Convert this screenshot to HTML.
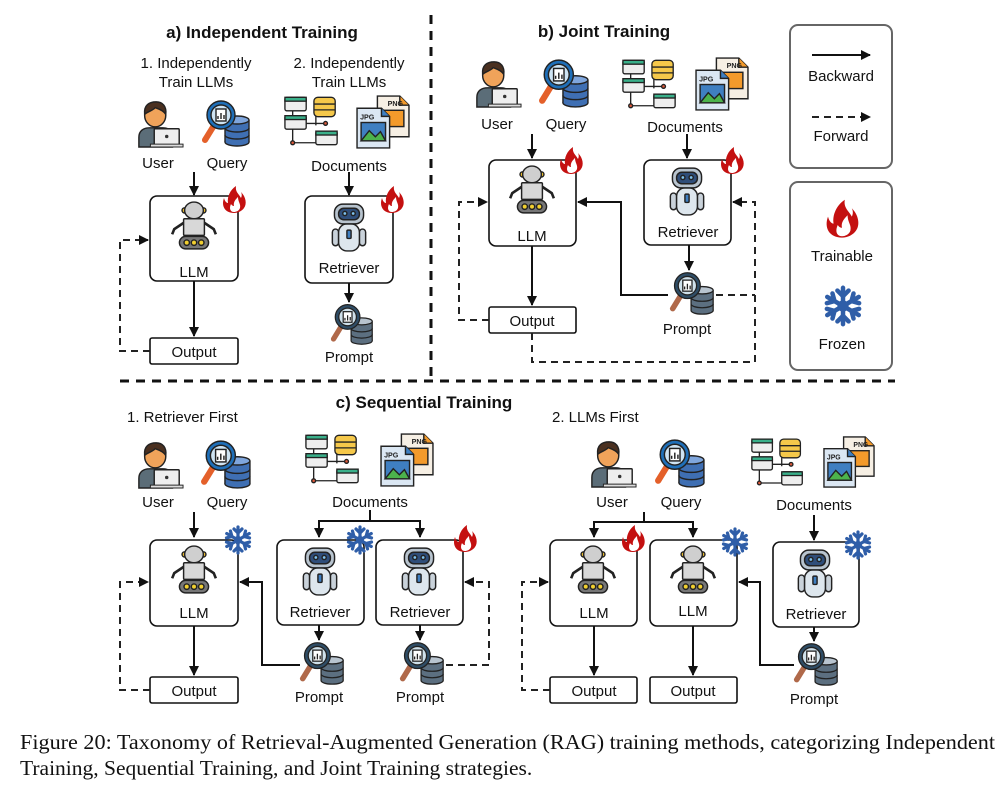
<!DOCTYPE html>
<html><head><meta charset="utf-8"><style>
html,body{margin:0;padding:0;background:#fff;}
svg{display:block;}
.t{font-family:"Liberation Sans",sans-serif;font-size:15px;fill:#111;text-anchor:middle;}
.h{font-family:"Liberation Sans",sans-serif;font-size:17px;font-weight:bold;fill:#111;text-anchor:middle;}
.bx{fill:#fff;stroke:#111;stroke-width:1.6;}
.ln{fill:none;stroke:#111;stroke-width:2;}
.ds{fill:none;stroke:#222;stroke-width:2;stroke-dasharray:7,5;}
.cap{font-family:"Liberation Serif",serif;font-size:21.5px;fill:#111;}
</style></head><body>
<svg width="1006" height="788" viewBox="0 0 1006 788" xmlns="http://www.w3.org/2000/svg">
<defs>
<marker id="ar" viewBox="0 0 10 10" refX="9" refY="5" markerWidth="5" markerHeight="5" orient="auto"><path d="M0 0L10 5L0 10Z" fill="#111"/></marker>
<symbol id="flame" viewBox="0 0 30 30"><path d="M15 29C6 29 2 22 5 14C6 18 8 19 9 19C8 13 11 6 17 2C16 8 20 10 22 14C23 12 23 10 22 8C27 13 28 20 25 24C23 27 19 29 15 29Z" fill="#c41010"/><path d="M15 28C11 28 10 24 12 20C13 22 15 22 15 22C14 18 17 15 19 13C19 18 22 20 21 24C20 27 17 28 15 28Z" fill="#fff"/></symbol>
<symbol id="snow" viewBox="0 0 30 30"><g stroke="#2f5ea8" stroke-width="3.2" stroke-linecap="round" fill="none">
<g id="arm"><line x1="15" y1="15" x2="15" y2="2"/><polyline points="11,4 15,8 19,4"/></g>
<use href="#arm" transform="rotate(60 15 15)"/><use href="#arm" transform="rotate(120 15 15)"/><use href="#arm" transform="rotate(180 15 15)"/><use href="#arm" transform="rotate(240 15 15)"/><use href="#arm" transform="rotate(300 15 15)"/></g><circle cx="15" cy="15" r="4" fill="#2f5ea8"/></symbol>
<symbol id="user" viewBox="0 0 50 50"><path d="M3 50V40C3 33 8 30 14 30H28C34 30 38 33 38 40V50Z" fill="#5b6d78" stroke="#222" stroke-width="1.5"/><ellipse cx="20" cy="17" rx="11" ry="12" fill="#f0a35a" stroke="#222" stroke-width="1.5"/><path d="M9 16C8 6 14 3 21 3C28 3 32 8 31 16C28 11 22 10 20 9C18 12 12 13 9 16Z" fill="#4a3020" stroke="#222" stroke-width="1.5"/><rect x="19" y="31" width="26" height="17" rx="1" fill="#eee" stroke="#222" stroke-width="1.5"/><rect x="15" y="47" width="34" height="3" fill="#ddd" stroke="#222" stroke-width="1"/><circle cx="32" cy="39" r="1.8" fill="#333"/></symbol>
<symbol id="query" viewBox="0 0 50 50"><g stroke="#222" stroke-width="1.4"><ellipse cx="36" cy="44" rx="12" ry="4" fill="#3f6fb3"/><rect x="24" y="22" width="24" height="22" fill="#3f6fb3" stroke="none"/><line x1="24" y1="22" x2="24" y2="44"/><line x1="48" y1="22" x2="48" y2="44"/><path d="M24 30A12 4 0 0 0 48 30M24 37A12 4 0 0 0 48 37" fill="none"/><ellipse cx="36" cy="22" rx="12" ry="4" fill="#7fa6dd"/><line x1="12" y1="29" x2="4" y2="42" stroke="#e4602a" stroke-width="6" stroke-linecap="round"/><circle cx="20" cy="17" r="14" fill="#1f6fb8"/><circle cx="20" cy="17" r="10" fill="#cfe4f3"/><rect x="15" y="11" width="10" height="12" fill="#fff"/><path d="M17 21V18M20 21V15M23 21V17" /></g></symbol>
<symbol id="prompt" viewBox="0 0 50 50"><g stroke="#222" stroke-width="1.4"><ellipse cx="36" cy="44" rx="12" ry="4" fill="#5c6f80"/><rect x="24" y="22" width="24" height="22" fill="#5c6f80" stroke="none"/><line x1="24" y1="22" x2="24" y2="44"/><line x1="48" y1="22" x2="48" y2="44"/><path d="M24 30A12 4 0 0 0 48 30M24 37A12 4 0 0 0 48 37" fill="none"/><ellipse cx="36" cy="22" rx="12" ry="4" fill="#b8c4cf"/><line x1="12" y1="29" x2="4" y2="42" stroke="#b0694a" stroke-width="6" stroke-linecap="round"/><circle cx="20" cy="17" r="14" fill="#2f4d66"/><circle cx="20" cy="17" r="10" fill="#cfe0ea"/><rect x="15" y="11" width="10" height="12" fill="#fff"/><path d="M17 21V18M20 21V15M23 21V17"/></g></symbol>
<symbol id="docs" viewBox="0 0 60 55"><g stroke="#222" stroke-width="1.4"><path d="M10 12V50H40M10 30H44M34 12V32" fill="none"/><rect x="2" y="3" width="22" height="14" rx="2" fill="#eee"/><rect x="2" y="3" width="22" height="4" fill="#3ab08a"/><rect x="2" y="22" width="22" height="14" rx="2" fill="#eee"/><rect x="2" y="22" width="22" height="4" fill="#3ab08a"/><rect x="34" y="38" width="22" height="14" rx="2" fill="#eee"/><rect x="34" y="38" width="22" height="4" fill="#3ab08a"/><rect x="32" y="3" width="22" height="20" rx="4" fill="#f5c84a"/><path d="M32 10H54M32 16H54" fill="none"/><circle cx="44" cy="30" r="2" fill="#e05a3a"/><circle cx="10" cy="50" r="2" fill="#e05a3a"/></g></symbol>
<symbol id="imgs" viewBox="0 0 55 55"><g stroke="#222" stroke-width="1.4"><path d="M22 2H44L53 11V42H22Z" fill="#f6efe4"/><path d="M44 2V11H53" fill="#f39a2b"/><rect x="28" y="16" width="20" height="16" fill="#f39a2b"/><text x="32" y="12" font-family="Liberation Sans" font-size="7" font-weight="bold" stroke="none" fill="#222">PNG</text><path d="M2 14H26L34 22V53H2Z" fill="#dbe7f3"/><path d="M26 14V22H34" fill="#3f7fc1"/><text x="5" y="25" font-family="Liberation Sans" font-size="7" font-weight="bold" stroke="none" fill="#222">JPG</text><rect x="6" y="28" width="24" height="18" fill="#3f7fc1"/><path d="M6 46L14 36L20 42L25 37L30 46Z" fill="#4cb34c"/></g></symbol>
<symbol id="llm" viewBox="0 0 50 50"><g stroke="#222" stroke-width="1.4"><path d="M15 22L6 28L4 33M35 22L44 28L46 33" fill="none" stroke-width="2.5"/><circle cx="16" cy="10" r="2.5" fill="#f2c230"/><circle cx="34" cy="10" r="2.5" fill="#f2c230"/><ellipse cx="25" cy="10" rx="9" ry="8" fill="#cfcfcf"/><rect x="15" y="18" width="20" height="16" rx="1" fill="#d8d8d8"/><rect x="11" y="35" width="28" height="12" rx="6" fill="#777"/><circle cx="18" cy="41" r="2.6" fill="#f2d030"/><circle cx="25" cy="41" r="2.6" fill="#f2d030"/><circle cx="32" cy="41" r="2.6" fill="#f2d030"/></g></symbol>
<symbol id="ret" viewBox="0 0 50 50"><g stroke="#222" stroke-width="1.4"><rect x="9" y="27" width="6" height="16" rx="3" fill="#c9d2da"/><rect x="35" y="27" width="6" height="16" rx="3" fill="#c9d2da"/><rect x="15" y="22" width="20" height="26" rx="8" fill="#dde6ed"/><rect x="23" y="28" width="4" height="8" rx="1" fill="#3f7fc1"/><rect x="11" y="3" width="28" height="19" rx="8" fill="#b8c4cf"/><rect x="15" y="7" width="20" height="11" rx="5" fill="#2f4e7a"/><circle cx="21" cy="12" r="2" fill="#7fc3f0"/><circle cx="29" cy="12" r="2" fill="#7fc3f0"/></g></symbol>
</defs>

<line x1="431" y1="15" x2="431" y2="378" stroke="#111" stroke-width="3" stroke-dasharray="9,7"/>
<line x1="120" y1="381" x2="895" y2="381" stroke="#111" stroke-width="3" stroke-dasharray="9,7"/>

<!-- ===== a ===== -->
<text class="h" x="262" y="38">a) Independent Training</text>
<text class="t" x="196" y="68">1. Independently</text><text class="t" x="196" y="87">Train LLMs</text>
<text class="t" x="349" y="68">2. Independently</text><text class="t" x="349" y="87">Train LLMs</text>
<use href="#user" x="136" y="98" width="48" height="50"/><use href="#query" x="200" y="98" width="52" height="50"/>
<text class="t" x="158" y="168">User</text><text class="t" x="227" y="168">Query</text>
<use href="#docs" x="283" y="94" width="58" height="54"/><use href="#imgs" x="355" y="94" width="56" height="56"/>
<text class="t" x="349" y="171">Documents</text>
<line class="ln" x1="194" y1="172" x2="194" y2="195" marker-end="url(#ar)"/>
<rect class="bx" x="150" y="196" width="88" height="85" rx="7"/>
<use href="#llm" x="168" y="200" width="52" height="52"/><text class="t" x="194" y="277">LLM</text>
<use href="#flame" x="219" y="182" width="30" height="34"/>
<line class="ln" x1="194" y1="281" x2="194" y2="336" marker-end="url(#ar)"/>
<rect class="bx" x="150" y="338" width="88" height="26" rx="2"/><text class="t" x="194" y="357">Output</text>
<path class="ds" d="M150 351H120V240H148" marker-end="url(#ar)"/>
<line class="ln" x1="349" y1="172" x2="349" y2="195" marker-end="url(#ar)"/>
<rect class="bx" x="305" y="196" width="88" height="87" rx="7"/>
<use href="#ret" x="323" y="199" width="52" height="56"/><text class="t" x="349" y="273">Retriever</text>
<use href="#flame" x="377" y="182" width="30" height="34"/>
<line class="ln" x1="349" y1="283" x2="349" y2="302" marker-end="url(#ar)"/>
<use href="#prompt" x="328" y="302" width="48" height="44"/><text class="t" x="349" y="362">Prompt</text>

<!-- ===== b ===== -->
<text class="h" x="604" y="37">b) Joint Training</text>
<use href="#user" x="474" y="57" width="48" height="52"/><use href="#query" x="538" y="57" width="52" height="52"/>
<text class="t" x="497" y="129">User</text><text class="t" x="566" y="129">Query</text>
<use href="#docs" x="621" y="57" width="58" height="54"/><use href="#imgs" x="694" y="56" width="56" height="56"/>
<text class="t" x="685" y="132">Documents</text>
<line class="ln" x1="532" y1="134" x2="532" y2="158" marker-end="url(#ar)"/>
<rect class="bx" x="489" y="160" width="87" height="86" rx="7"/>
<use href="#llm" x="506" y="164" width="52" height="52"/><text class="t" x="532" y="241">LLM</text>
<use href="#flame" x="556" y="143" width="30" height="34"/>
<line class="ln" x1="687" y1="134" x2="687" y2="158" marker-end="url(#ar)"/>
<rect class="bx" x="644" y="160" width="87" height="85" rx="7"/>
<use href="#ret" x="661" y="163" width="52" height="56"/><text class="t" x="688" y="237">Retriever</text>
<use href="#flame" x="717" y="143" width="30" height="34"/>
<line class="ln" x1="532" y1="246" x2="532" y2="305" marker-end="url(#ar)"/>
<rect class="bx" x="489" y="307" width="87" height="26" rx="2"/><text class="t" x="532" y="326">Output</text>
<path class="ds" d="M489 320H459V202H487" marker-end="url(#ar)"/>
<path class="ln" d="M668 295H621V202H578" marker-end="url(#ar)"/>
<line class="ln" x1="689" y1="245" x2="689" y2="270" marker-end="url(#ar)"/>
<use href="#prompt" x="668" y="270" width="48" height="46"/><text class="t" x="687" y="334">Prompt</text>
<path class="ds" d="M532 333V362H755V202H733" marker-end="url(#ar)"/>
<path class="ds" d="M716 295H755"/>

<!-- legend -->
<rect x="790" y="25" width="102" height="143" rx="8" fill="#fff" stroke="#666" stroke-width="2"/>
<line class="ln" x1="812" y1="55" x2="870" y2="55" marker-end="url(#ar)"/>
<text class="t" x="841" y="81">Backward</text>
<line class="ds" x1="812" y1="117" x2="870" y2="117" marker-end="url(#ar)"/>
<text class="t" x="841" y="141">Forward</text>
<rect x="790" y="182" width="102" height="188" rx="8" fill="#fff" stroke="#666" stroke-width="2"/>
<use href="#flame" x="821" y="195" width="42" height="46"/>
<text class="t" x="842" y="261">Trainable</text>
<use href="#snow" x="822" y="283" width="42" height="46"/>
<text class="t" x="842" y="349">Frozen</text>

<!-- ===== c ===== -->
<text class="h" x="424" y="408">c) Sequential Training</text>
<text class="t" x="127" y="422" style="text-anchor:start">1. Retriever First</text>
<use href="#user" x="136" y="438" width="48" height="52"/><use href="#query" x="200" y="438" width="52" height="52"/>
<text class="t" x="158" y="507">User</text><text class="t" x="227" y="507">Query</text>
<use href="#docs" x="304" y="432" width="58" height="54"/><use href="#imgs" x="379" y="432" width="56" height="56"/>
<text class="t" x="370" y="507">Documents</text>
<line class="ln" x1="194" y1="512" x2="194" y2="537" marker-end="url(#ar)"/>
<rect class="bx" x="150" y="540" width="88" height="86" rx="7"/>
<use href="#llm" x="168" y="544" width="52" height="52"/><text class="t" x="194" y="618">LLM</text>
<use href="#snow" x="223" y="524" width="30" height="32"/>
<line class="ln" x1="194" y1="626" x2="194" y2="675" marker-end="url(#ar)"/>
<rect class="bx" x="150" y="677" width="88" height="26" rx="2"/><text class="t" x="194" y="696">Output</text>
<path class="ds" d="M150 690H120V582H148" marker-end="url(#ar)"/>
<path class="ln" d="M370 510V521H319V537M370 521H420V537" marker-end="url(#ar)"/>
<line class="ln" x1="319" y1="521" x2="319" y2="537" marker-end="url(#ar)"/>
<rect class="bx" x="277" y="540" width="87" height="85" rx="7"/>
<use href="#ret" x="294" y="543" width="52" height="56"/><text class="t" x="320" y="617">Retriever</text>
<use href="#snow" x="345" y="524" width="30" height="32"/>
<rect class="bx" x="376" y="540" width="87" height="85" rx="7"/>
<use href="#ret" x="393" y="543" width="52" height="56"/><text class="t" x="420" y="617">Retriever</text>
<use href="#flame" x="450" y="521" width="30" height="34"/>
<line class="ln" x1="319" y1="625" x2="319" y2="640" marker-end="url(#ar)"/>
<line class="ln" x1="420" y1="625" x2="420" y2="640" marker-end="url(#ar)"/>
<use href="#prompt" x="298" y="640" width="48" height="46"/><text class="t" x="319" y="702">Prompt</text>
<use href="#prompt" x="398" y="640" width="48" height="46"/><text class="t" x="420" y="702">Prompt</text>
<path class="ln" d="M300 665H262V582H240" marker-end="url(#ar)"/>
<path class="ds" d="M446 665H489V582H465" marker-end="url(#ar)"/>

<text class="t" x="552" y="422" style="text-anchor:start">2. LLMs First</text>
<use href="#user" x="589" y="437" width="48" height="52"/><use href="#query" x="654" y="437" width="52" height="52"/>
<text class="t" x="612" y="507">User</text><text class="t" x="681" y="507">Query</text>
<use href="#docs" x="750" y="435" width="56" height="54"/><use href="#imgs" x="822" y="434" width="54" height="56"/>
<text class="t" x="814" y="510">Documents</text>
<path class="ln" d="M644 512V522H594V537" marker-end="url(#ar)"/>
<path class="ln" d="M644 522H693V537" marker-end="url(#ar)"/>
<rect class="bx" x="550" y="540" width="87" height="86" rx="7"/>
<use href="#llm" x="567" y="544" width="52" height="52"/><text class="t" x="594" y="618">LLM</text>
<use href="#flame" x="618" y="521" width="30" height="34"/>
<rect class="bx" x="650" y="540" width="87" height="86" rx="7"/>
<use href="#llm" x="667" y="544" width="52" height="52"/><text class="t" x="693" y="616">LLM</text>
<use href="#snow" x="720" y="526" width="30" height="32"/>
<line class="ln" x1="594" y1="626" x2="594" y2="675" marker-end="url(#ar)"/>
<line class="ln" x1="693" y1="626" x2="693" y2="675" marker-end="url(#ar)"/>
<rect class="bx" x="550" y="677" width="87" height="26" rx="2"/><text class="t" x="594" y="696">Output</text>
<rect class="bx" x="650" y="677" width="87" height="26" rx="2"/><text class="t" x="693" y="696">Output</text>
<path class="ds" d="M550 690H522V582H548" marker-end="url(#ar)"/>
<line class="ln" x1="814" y1="515" x2="814" y2="540" marker-end="url(#ar)"/>
<rect class="bx" x="773" y="542" width="86" height="85" rx="7"/>
<use href="#ret" x="789" y="545" width="52" height="56"/><text class="t" x="816" y="619">Retriever</text>
<use href="#snow" x="843" y="529" width="30" height="32"/>
<line class="ln" x1="814" y1="627" x2="814" y2="641" marker-end="url(#ar)"/>
<use href="#prompt" x="792" y="641" width="48" height="46"/><text class="t" x="814" y="704">Prompt</text>
<path class="ln" d="M794 665H760V582H739" marker-end="url(#ar)"/>

<!-- caption -->
<text class="cap" x="20" y="749" textLength="975" lengthAdjust="spacingAndGlyphs">Figure 20: Taxonomy of Retrieval-Augmented Generation (RAG) training methods, categorizing Independent</text>
<text class="cap" x="20" y="775">Training, Sequential Training, and Joint Training strategies.</text>
</svg>
</body></html>
